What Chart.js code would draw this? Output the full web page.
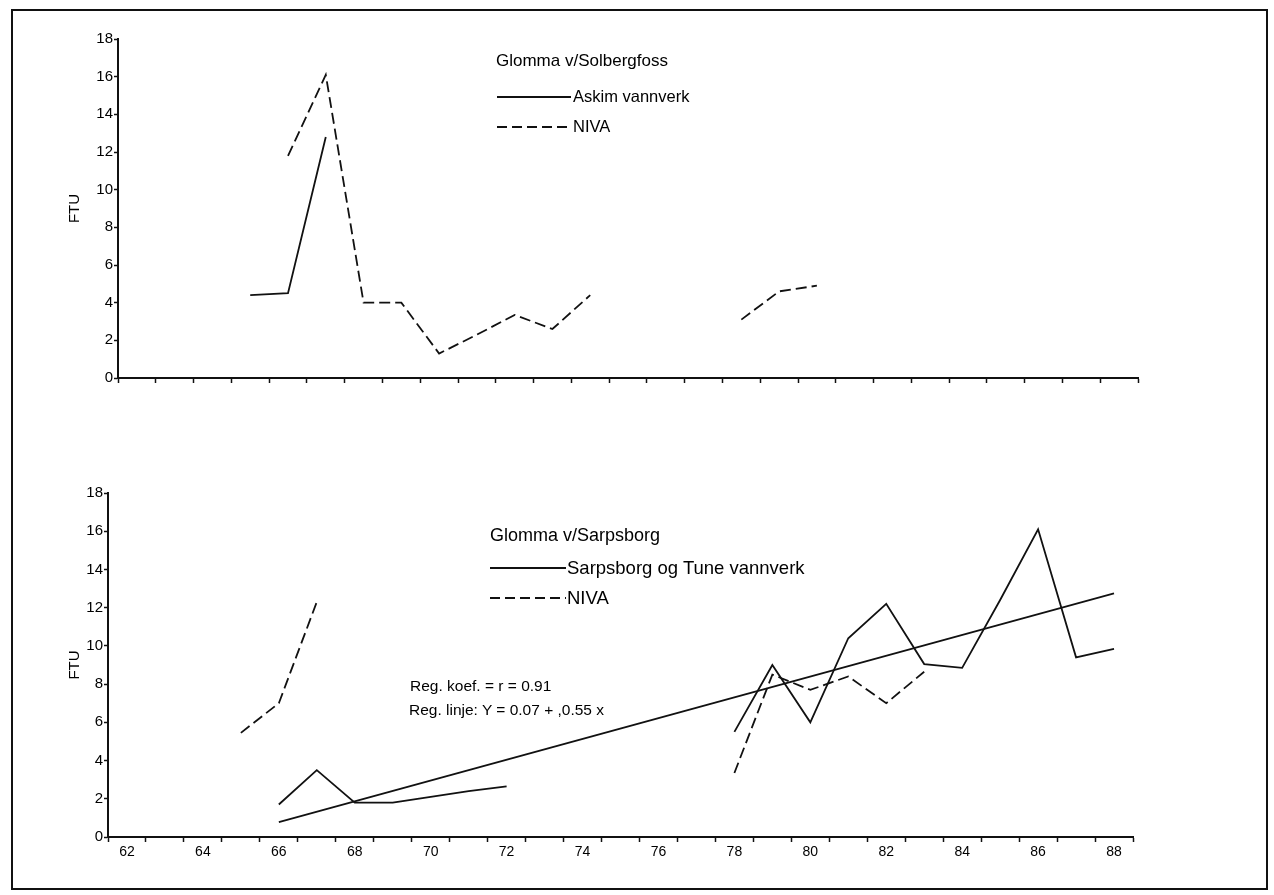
<!DOCTYPE html>
<html>
<head>
<meta charset="utf-8">
<script src="https://cdn.jsdelivr.net/npm/chart.js@4.4.1/dist/chart.umd.min.js"></script>
<style>
    body { margin: 0; background: #fff; font-family: "Liberation Sans", Arial, sans-serif; color: #000; }
    #page { position: relative; width: 1274px; height: 895px; overflow: hidden; }
    #frame { position: absolute; left: 11px; top: 9px; width: 1253px; height: 877px; border: 2px solid #111; }
    canvas { position: absolute; left: 0; }
    .txt { position: absolute; white-space: nowrap; line-height: 1; }
    svg.key { position: absolute; }
</style>
</head>
<body>
<div id="page">
    <div id="frame"></div>
    <canvas id="top-chart" width="1274" height="430" style="top:0"></canvas>
    <canvas id="bottom-chart" width="1274" height="440" style="top:440px"></canvas>

    <div class="txt" style="left:496px; top:52px; font-size:17px">Glomma v/Solbergfoss</div>
    <svg class="key" style="left:497px; top:91px" width="76" height="12"><line x1="0" y1="6" x2="74" y2="6" stroke="#111" stroke-width="1.8"/></svg>
    <div class="txt" style="left:573px; top:88px; font-size:16.5px">Askim vannverk</div>
    <svg class="key" style="left:497px; top:121px" width="76" height="12"><line x1="0" y1="6" x2="74" y2="6" stroke="#111" stroke-width="1.8" stroke-dasharray="10 5"/></svg>
    <div class="txt" style="left:573px; top:118px; font-size:16.5px">NIVA</div>

    <div class="txt" style="left:490px; top:526px; font-size:18px">Glomma v/Sarpsborg</div>
    <svg class="key" style="left:490px; top:562px" width="78" height="12"><line x1="0" y1="6" x2="76" y2="6" stroke="#111" stroke-width="1.8"/></svg>
    <div class="txt" style="left:567px; top:559px; font-size:18.5px">Sarpsborg og Tune vannverk</div>
    <svg class="key" style="left:490px; top:592px" width="78" height="12"><line x1="0" y1="6" x2="76" y2="6" stroke="#111" stroke-width="1.8" stroke-dasharray="10 5"/></svg>
    <div class="txt" style="left:567px; top:589px; font-size:18.5px">NIVA</div>

    <div class="txt" style="left:410px; top:678px; font-size:15.5px">Reg. koef. = r = 0.91</div>
    <div class="txt" style="left:409px; top:702px; font-size:15.5px">Reg. linje: Y = 0.07 + ,0.55 x</div>
</div>
<script>
const years = [62, 63, 64, 65, 66, 67, 68, 69, 70, 71, 72, 73, 74, 75, 76, 77, 78, 79, 80, 81, 82, 83, 84, 85, 86, 87, 88];
const yearLabels = ['62', '64', '66', '68', '70', '72', '74', '76', '78', '80', '82', '84', '86', '88'];
const ftuTicks = [0, 2, 4, 6, 8, 10, 12, 14, 16, 18];

// Glomma v/Solbergfoss
const askimTop = [null, null, null, 4.4, 4.5, 12.8, null, null, null, null, null, null, null, null, null, null, null, null, null, null, null, null, null, null, null, null, null];
const nivaTop = [null, null, null, null, 11.8, 16.1, 4.0, 4.0, 1.3, 2.3, 3.35, 2.6, 4.4, null, null, null, 3.1, 4.6, 4.9, null, null, null, null, null, null, null, null];

// Glomma v/Sarpsborg
const sarpBottom = [null, null, null, null, 1.7, 3.5, 1.8, 1.8, 2.1, 2.4, 2.65, null, null, null, null, null, 5.5, 9.0, 6.0, 10.4, 12.2, 9.05, 8.85, 12.4, 16.1, 9.4, 9.85];
const nivaBottom = [null, null, null, 5.45, 7.0, 12.3, null, null, null, null, null, null, null, null, null, null, 3.35, 8.5, 7.7, 8.4, 7.0, 8.65, null, null, null, null, null];
const regYears = [66, 88];
const regValues = [0.78, 12.75];

const ink = '#111';
const toPoints = (xs, ys) => xs.map((x, i) => ({ x, y: ys[i] }));

const lineSet = (data, dashed) => ({
    data,
    borderColor: ink,
    borderWidth: 1.8,
    borderDash: dashed ? [11, 5] : [],
    pointRadius: 0,
    tension: 0,
    spanGaps: false,
});

const buildChart = (ctxId, datasets, box) => {
    const ctx = document.getElementById(ctxId);
    if (!ctx || typeof Chart === 'undefined') return null;
    return new Chart(ctx, {
        type: 'line',
        data: { datasets },
        options: {
            responsive: false,
            animation: false,
            layout: { padding: { left: box.left, top: box.top, right: box.right, bottom: 0 } },
            plugins: { legend: { display: false }, tooltip: { enabled: false } },
            scales: {
                x: {
                    type: 'linear',
                    min: 61.5,
                    max: 88.5,
                    afterFit: (scale) => { scale.height = box.xHeight; },
                    afterBuildTicks: (scale) => {
                        const ticks = [];
                        years.forEach((y) => { ticks.push({ value: y - 0.5 }, { value: y }); });
                        ticks.push({ value: 88.5 });
                        scale.ticks = ticks;
                    },
                    border: { color: ink, width: 2 },
                    grid: {
                        drawOnChartArea: false,
                        tickLength: 5,
                        tickWidth: 1.5,
                        color: (c) => (c.tick && c.tick.value % 1 !== 0 ? ink : 'rgba(0,0,0,0)'),
                    },
                    ticks: {
                        autoSkip: false,
                        maxRotation: 0,
                        padding: 2,
                        color: '#000',
                        font: { family: 'Liberation Sans', size: 14 },
                        callback: (v) => (box.xLabels && yearLabels.includes(String(v)) ? String(v) : ''),
                    },
                },
                y: {
                    min: 0,
                    max: 18,
                    afterFit: (scale) => { scale.width = box.yWidth; },
                    afterBuildTicks: (scale) => { scale.ticks = ftuTicks.map((v) => ({ value: v })); },
                    border: { color: ink, width: 2 },
                    grid: { drawOnChartArea: false, tickLength: 4, tickWidth: 1.5, color: ink },
                    ticks: { padding: 1, color: '#000', font: { family: 'Liberation Sans', size: 15 } },
                    title: { display: true, text: 'FTU', color: '#000', padding: 0, font: { family: 'Liberation Sans', size: 15 } },
                },
            },
        },
    });
};

buildChart('top-chart', [
    lineSet(toPoints(years, askimTop), false),
    lineSet(toPoints(years, nivaTop), true),
], { left: 66, top: 39, right: 136, yWidth: 52, xHeight: 52, xLabels: false });

buildChart('bottom-chart', [
    lineSet(toPoints(years, sarpBottom), false),
    lineSet(toPoints(years, nivaBottom), true),
    lineSet(toPoints(regYears, regValues), false),
], { left: 66, top: 53, right: 141, yWidth: 42, xHeight: 43, xLabels: true });
</script>
</body>
</html>
